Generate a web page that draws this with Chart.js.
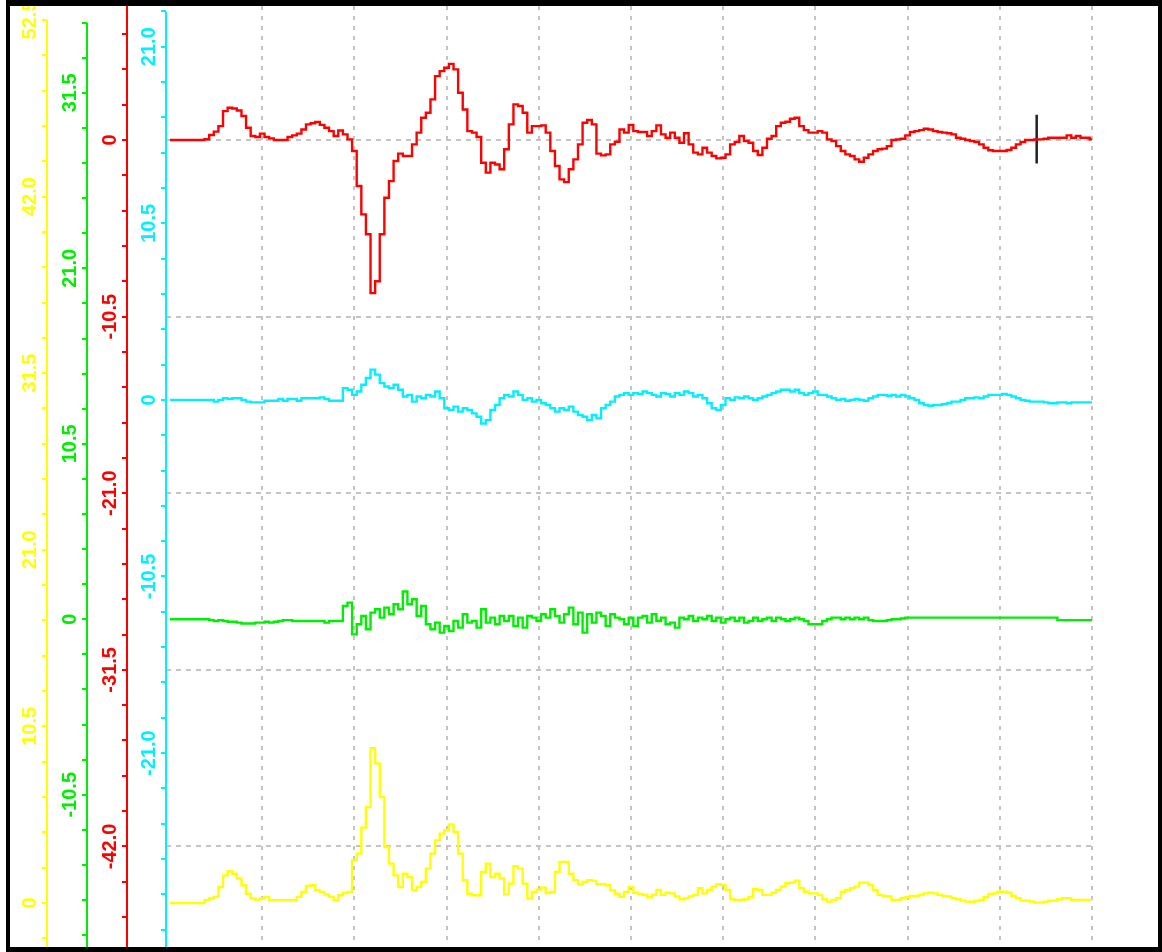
<!DOCTYPE html>
<html>
<head>
<meta charset="utf-8">
<title>Traces</title>
<script src="https://cdn.jsdelivr.net/npm/chart.js@4/dist/chart.umd.min.js"></script>
<style>
  html, body { margin: 0; padding: 0; background: #fff; }
  canvas { display: block; }
</style>
</head>
<body>
<canvas id="traces" width="1162" height="952"></canvas>
<script>
// one sample every 0.05 grid division, 10 divisions across
const STEP = 0.05;
const gridDivs = [1, 2, 3, 4, 5, 6, 7, 8, 9, 10];

const redValues = [
  0, 0, 0, 0, 0, 0, 0, 0, 0.05, 0.3,
  0.5, 0.83, 1.72, 1.92, 1.88, 1.76, 1.43, 0.73, 0.24, 0.18,
  0.38, 0.18, 0.1, 0, 0, 0, 0.18, 0.28, 0.38, 0.63,
  0.93, 1.0, 1.07, 0.9, 0.73, 0.53, 0.24, 0.57, 0.34, 0.04,
  -0.65, -2.73, -4.42, -5.6, -9.1, -8.4, -5.6, -3.43, -2.44, -1.25,
  -0.81, -0.95, -0.95, -0.26, 0.44, 1.33, 1.62, 2.42, 3.8, 4.1,
  4.3, 4.53, 4.2, 2.81, 1.82, 0.53, 0.44, 0.18, -1.35, -1.94,
  -1.35, -1.45, -1.74, -0.55, 0.93, 2.12, 2.02, 1.62, 0.44, 0.83,
  0.83, 0.87, 0.44, -0.65, -1.54, -2.34, -2.5, -1.74, -1.15, -0.26,
  1.03, 1.19, 0.93, -0.81, -0.91, -0.85, -0.26, -0.1, 0.63, 0.44,
  0.9, 0.53, 0.48, 0.48, 0.24, 0.53, 0.87, 0.34, 0.14, 0.44,
  0.14, -0.16, 0.4, -0.26, -0.75, -0.85, -0.46, -0.75, -0.95, -1.09,
  -1.05, -0.85, -0.26, -0.12, 0.24, -0.06, -0.16, -0.65, -0.89, -0.46,
  0.08, 0.24, 0.83, 1.03, 1.09, 1.27, 1.33, 0.83, 0.59, 0.44,
  0.44, 0.53, 0.44, 0.04, -0.06, -0.36, -0.65, -0.85, -0.95, -1.15,
  -1.29, -1.05, -0.85, -0.65, -0.55, -0.51, -0.36, 0, 0.04, 0.08,
  0.28, 0.48, 0.53, 0.59, 0.67, 0.63, 0.53, 0.48, 0.44, 0.4,
  0.34, 0.14, 0.08, 0, -0.06, -0.12, -0.26, -0.46, -0.61, -0.65,
  -0.65, -0.65, -0.59, -0.46, -0.26, -0.12, 0, 0, 0.04, 0.04,
  0.08, 0.14, 0.14, 0.14, 0.14, 0.28, 0.14, 0.24, 0.14, 0.14,
  0.04
];

const cyanValues = [
  0, 0, 0, 0, 0, 0, 0, 0, 0, 0,
  -0.1, 0, 0.1, 0.05, 0.1, 0.1, 0, -0.1, -0.15, -0.15,
  -0.15, -0.05, -0.05, -0.05, 0.05, -0.05, 0.05, 0.05, -0.05, 0.1,
  0.1, 0.1, 0.1, 0.15, 0.05, -0.05, -0.05, -0.05, 0.7, 0.6,
  0.3, 0.5, 0.9, 1.3, 1.8, 1.5, 1.0, 0.8, 0.7, 0.9,
  0.6, 0.2, 0.3, -0.1, 0.2, 0.1, 0.3, 0.2, 0.5, 0.1,
  -0.5, -0.6, -0.4, -0.7, -0.5, -0.6, -0.8, -1.0, -1.4, -1.2,
  -0.6, -0.3, 0.1, 0.3, 0.2, 0.5, 0.3, 0.0, 0.1, -0.1,
  0.0, -0.2, -0.3, -0.5, -0.7, -0.5, -0.6, -0.4, -0.7, -0.9,
  -1.0, -1.2, -0.9, -1.1, -0.5, -0.3, -0.1, 0.2, 0.3, 0.4,
  0.3, 0.4, 0.35, 0.5, 0.4, 0.3, 0.2, 0.4, 0.35, 0.2,
  0.4, 0.3, 0.5, 0.4, 0.2, 0.3, 0.1, -0.2, -0.5, -0.6,
  -0.3, 0.1, 0.0, 0.15, 0.1, 0.2, 0.1, 0.0, 0.1, 0.2,
  0.3, 0.4, 0.5, 0.6, 0.6, 0.5, 0.6, 0.4, 0.3, 0.4,
  0.5, 0.3, 0.3, 0.2, 0.1, 0, 0.05, -0.05, 0, 0.05,
  0, -0.05, 0.1, 0.2, 0.3, 0.3, 0.25, 0.3, 0.2, 0.3,
  0.2, 0.1, 0, -0.2, -0.3, -0.35, -0.3, -0.3, -0.25, -0.2,
  -0.1, -0.1, 0, 0.1, 0.1, 0.15, 0.1, 0.2, 0.3, 0.3,
  0.3, 0.35, 0.3, 0.2, 0.1, 0, -0.05, -0.1, -0.1, -0.1,
  -0.15, -0.2, -0.2, -0.15, -0.15, -0.2, -0.15, -0.15, -0.15, -0.15,
  -0.15
];

const greenValues = [
  0, 0, 0, 0, 0, 0, 0, 0, 0, -0.05,
  -0.1, -0.05, -0.1, -0.15, -0.15, -0.2, -0.25, -0.25, -0.25, -0.2,
  -0.2, -0.15, -0.2, -0.15, -0.1, -0.05, -0.05, -0.1, -0.1, -0.1,
  -0.1, -0.1, -0.1, -0.1, -0.2, -0.1, -0.1, -0.1, 0.8, 1.0,
  -0.9, -0.3, 0.2, -0.6, 0.4, 0.6, 0.1, 0.7, 0.3, 0.9,
  0.6, 1.66, 0.9, 1.2, 0.2, 0.8, -0.3, -0.6, -0.2, -0.8,
  -0.4, -0.7, -0.1, -0.5, 0.3, -0.2, -0.1, -0.5, 0.6, -0.2,
  0.1, -0.3, 0.2, -0.1, 0.2, -0.4, 0.1, -0.5, 0.2, 0.1,
  -0.1, 0.3, 0.1, 0.6, 0.2, -0.2, 0.3, 0.7, -0.3, 0.4,
  -0.8, 0.3, -0.2, 0.4, 0.2, -0.4, 0.3, 0.1, 0, -0.3,
  0.1, -0.4, 0.1, 0.2, -0.2, 0.3, -0.1, 0.1, -0.3, -0.2,
  -0.5, 0.1, 0, 0.2, -0.1, 0.1, 0, 0.2, -0.1, 0.1,
  -0.2, 0, 0.1, -0.1, 0.1, -0.2, -0.1, 0.1, -0.1, 0,
  0.1, -0.1, 0.1, 0, -0.1, 0, 0.1, 0, -0.1, -0.3,
  -0.3, -0.3, -0.1, 0, 0.1, 0.1, 0, 0.1, 0, 0.1,
  0, 0.1, -0.05, -0.1, -0.1, -0.1, -0.05, 0, 0, 0.05,
  0.1, 0.1, 0.1, 0.1, 0.1, 0.1, 0.1, 0.1, 0.1, 0.1,
  0.1, 0.1, 0.1, 0.1, 0.1, 0.1, 0.1, 0.1, 0.1, 0.1,
  0.1, 0.1, 0.1, 0.1, 0.1, 0.1, 0.1, 0.1, 0.1, 0.1,
  0.1, 0.1, 0.1, -0.05, -0.05, -0.05, -0.05, -0.05, -0.05, -0.05,
  -0.05
];

const yellowValues = [
  0, 0, 0, 0, 0, 0, 0, 0, 0.16, 0.26,
  0.36, 0.95, 1.64, 1.88, 1.74, 1.45, 1.05, 0.55, 0.26, 0.2,
  0.26, 0.36, 0.16, 0.16, 0.16, 0.16, 0.16, 0.16, 0.36, 0.65,
  1.01, 1.05, 0.75, 0.65, 0.51, 0.36, 0.16, 0.46, 0.59, 0.65,
  2.53, 2.93, 4.48, 5.7, 9.2, 8.3, 6.3, 3.33, 2.34, 1.64,
  0.95, 1.74, 1.54, 0.75, 0.95, 1.25, 2.04, 2.93, 3.72, 4.12,
  4.32, 4.67, 4.22, 2.93, 1.35, 0.55, 0.46, 0.46, 1.84, 2.34,
  1.54, 1.74, 1.45, 0.51, 1.15, 2.18, 2.04, 1.15, 0.26, 0.65,
  0.79, 0.91, 0.59, 0.65, 1.84, 2.44, 2.44, 1.74, 1.35, 1.11,
  1.25, 1.35, 1.31, 1.11, 1.11, 1.05, 0.75, 0.55, 0.36, 0.65,
  0.95, 0.61, 0.53, 0.48, 0.34, 0.48, 0.77, 0.48, 0.61, 0.57,
  0.38, 0.22, 0.28, 0.38, 0.48, 0.87, 0.57, 0.77, 0.97, 1.11,
  1.07, 0.77, 0.22, 0.18, 0.18, 0.22, 0.34, 0.81, 0.77, 0.48,
  0.48, 0.61, 0.77, 0.97, 1.17, 1.21, 1.33, 0.87, 0.67, 0.57,
  0.57, 0.48, 0.22, 0.08, 0.18, 0.28, 0.67, 0.77, 0.87, 0.97,
  1.21, 1.21, 1.07, 0.77, 0.48, 0.42, 0.38, 0.18, 0.18, 0.28,
  0.34, 0.42, 0.42, 0.48, 0.57, 0.61, 0.57, 0.48, 0.42, 0.38,
  0.28, 0.22, 0.14, 0.08, 0.06, 0.12, 0.18, 0.34, 0.53, 0.57,
  0.67, 0.67, 0.61, 0.42, 0.28, 0.14, 0.14, 0.08, 0.02, 0.02,
  0.08, 0.14, 0.14, 0.22, 0.28, 0.28, 0.18, 0.18, 0.18, 0.18,
  0.18
];

// labelled ticks on each axis (minor ticks every 2.1 in between)
const yellowTicks = [52.5, 42.0, 31.5, 21.0, 10.5, 0];
const greenTicks = [31.5, 21.0, 10.5, 0, -10.5];
const redTicks = [0, -10.5, -21.0, -31.5, -42.0];
const cyanTicks = [21.0, 10.5, 0, -10.5, -21.0];

// cursor mark on the red trace
const cursorX = [9.4, 9.4];
const cursorY = [1.5, -1.4];

const MINOR = 2.1;
const LABEL_FONT = 'bold 20px "Liberation Sans", Arial, sans-serif';

const AXES = [
  { id: "yYellow", color: "#ffff00", min: -2.56, max: 53.33, width: 37, weight: 4, labels: yellowTicks },
  { id: "yGreen", color: "#00ee00", min: -19.55, max: 36.7, width: 40, weight: 3, labels: greenTicks },
  { id: "yRed", color: "#ff0000", min: -47.92, max: 7.97, width: 40, weight: 2, labels: redTicks, grid: true, fullLine: true },
  { id: "yCyan", color: "#00f0ff", min: -32.47, max: 23.42, width: 39, weight: 1, labels: cyanTicks },
];

function minorTicks(min, max) {
  var out = [];
  for (var n = Math.ceil(min / MINOR); n * MINOR <= max; n++) {
    out.push(Number((n * MINOR).toFixed(2)));
  }
  return out;
}

function isMajor(v) {
  return Math.abs(v / 10.5 - Math.round(v / 10.5)) < 1e-6;
}

function toPoints(values) {
  return values.map((v, i) => ({ x: i * STEP, y: v }));
}

const scales = {
  x: {
    type: "linear",
    min: -0.0434,
    max: 10,
    bounds: "data",
    afterBuildTicks: (s) => {
      s.ticks = gridDivs.map((v) => ({ value: v }));
    },
    ticks: { display: false },
    border: { display: false, dash: [4, 6] },
    grid: { color: "#c4c4c4", lineWidth: 2, drawTicks: false },
  },
};

AXES.forEach((a) => {
  scales[a.id] = {
    type: "linear",
    position: "left",
    weight: a.weight,
    min: a.min,
    max: a.max,
    bounds: "data",
    afterBuildTicks: (s) => {
      s.ticks = minorTicks(a.min, a.max).map((v) => ({ value: v }));
    },
    afterFit: (s) => {
      s.width = a.width;
    },
    ticks: { display: false },
    border: { display: false, dash: [5, 5] },
    grid: {
      drawOnChartArea: !!a.grid,
      color: (c) => (c.tick && isMajor(c.tick.value) ? "#c4c4c4" : "rgba(0,0,0,0)"),
      lineWidth: 2,
      drawTicks: true,
      tickLength: 5,
      tickWidth: 2,
      tickColor: a.color,
    },
  };
});

// axis lines, rotated tick labels and the black frame
const decor = {
  id: "decor",
  beforeDraw(chart) {
    const ctx = chart.ctx;
    ctx.save();
    ctx.fillStyle = "#fff";
    ctx.fillRect(0, 0, chart.width, chart.height);
    ctx.restore();
  },
  afterDraw(chart) {
    const ctx = chart.ctx;
    AXES.forEach((a) => {
      const s = chart.scales[a.id];
      const x = s.right;
      const topTick = Math.max.apply(null, s.ticks.map((t) => t.value));
      const top = a.fullLine ? 0 : s.getPixelForValue(topTick);
      ctx.save();
      ctx.strokeStyle = a.color;
      ctx.lineWidth = 2;
      ctx.beginPath();
      ctx.moveTo(x, top);
      ctx.lineTo(x, chart.height);
      ctx.stroke();

      ctx.fillStyle = a.color;
      ctx.font = LABEL_FONT;
      ctx.textAlign = "center";
      ctx.textBaseline = "middle";
      a.labels.forEach((v) => {
        ctx.save();
        ctx.translate(x - 17, s.getPixelForValue(v));
        ctx.rotate(-Math.PI / 2);
        ctx.fillText(v === 0 ? "0" : v.toFixed(1), 0, 0);
        ctx.restore();
      });
      ctx.restore();
    });

    ctx.save();
    ctx.fillStyle = "#000";
    ctx.fillRect(6, 0, 1156, 6);
    ctx.fillRect(6, 0, 4, 952);
    ctx.fillRect(1158, 0, 4, 952);
    ctx.fillRect(6, 947, 1156, 5);
    ctx.restore();
  },
};

const lineStyle = { pointRadius: 0, borderWidth: 2.4, fill: false, tension: 0, stepped: "middle" };

new Chart(document.getElementById("traces"), {
  type: "line",
  data: {
    datasets: [
      Object.assign({ label: "Red", data: toPoints(redValues), yAxisID: "yRed", borderColor: "#ff0000" }, lineStyle),
      Object.assign({ label: "Cyan", data: toPoints(cyanValues), yAxisID: "yCyan", borderColor: "#00f0ff" }, lineStyle),
      Object.assign({ label: "Green", data: toPoints(greenValues), yAxisID: "yGreen", borderColor: "#00ee00" }, lineStyle),
      Object.assign({ label: "Yellow", data: toPoints(yellowValues), yAxisID: "yYellow", borderColor: "#ffff00" }, lineStyle),
      Object.assign(
        { label: "Cursor", data: cursorX.map((x, i) => ({ x: x, y: cursorY[i] })), yAxisID: "yRed", borderColor: "#222222" },
        lineStyle,
        { borderWidth: 2.5, stepped: false }
      ),
    ],
  },
  options: {
    responsive: false,
    animation: false,
    events: [],
    layout: { padding: { left: 10, right: 70, top: 6, bottom: 6 } },
    plugins: { legend: { display: false }, tooltip: { enabled: false } },
    scales: scales,
  },
  plugins: [decor],
});
</script>
</body>
</html>
